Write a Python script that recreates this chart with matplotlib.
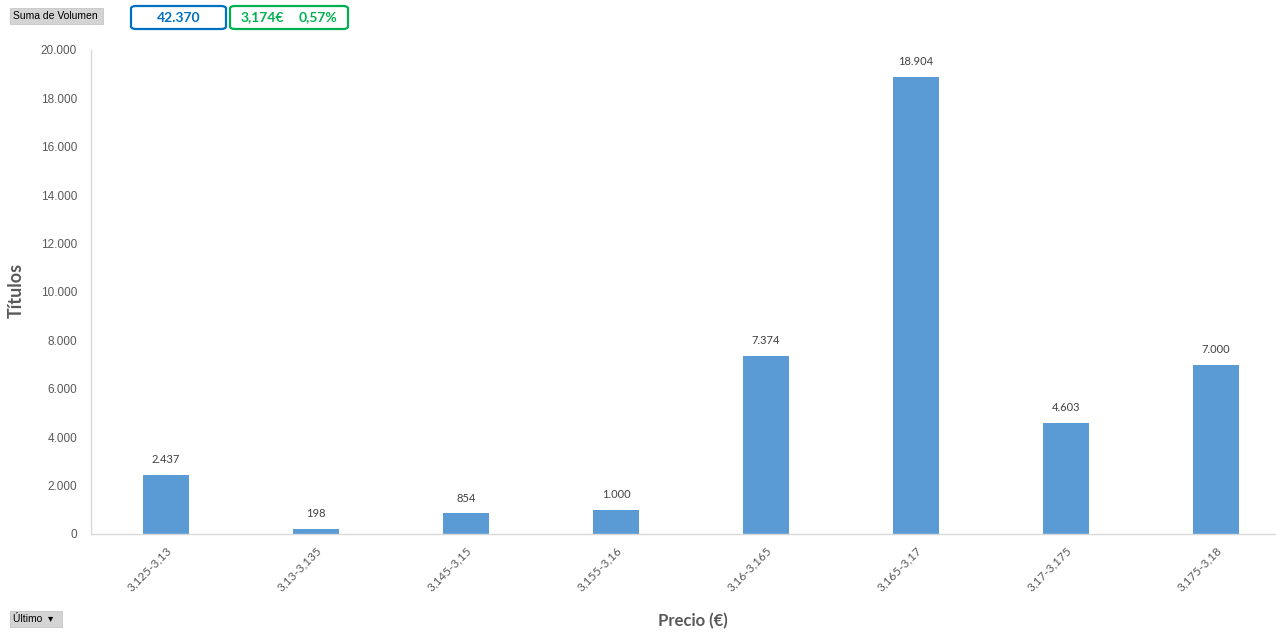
import matplotlib.pyplot as plt
from matplotlib.patches import FancyBboxPatch, Rectangle
from matplotlib.ticker import FuncFormatter

categorias = ["3,125-3,13", "3,13-3,135", "3,145-3,15", "3,155-3,16",
              "3,16-3,165", "3,165-3,17", "3,17-3,175", "3,175-3,18"]
volumen = [2437, 198, 854, 1000, 7374, 18904, 4603, 7000]
total_volumen = "42.370"
ultimo_precio = "3,174€"
variacion = "0,57%"

W, H = 1276, 637
fig = plt.figure(figsize=(W / 100, H / 100), dpi=100)
plt.rcParams['font.family'] = ['Liberation Sans', 'DejaVu Sans']
calibri = ['Lato', 'DejaVu Sans']

# el área de trazado sobresale por la derecha, como en el original
ax = fig.add_axes([91 / W, 1 - 534 / H, 1200 / W, (534 - 50) / H])
x = range(len(categorias))
bars = ax.bar(x, volumen, width=0.313, color="#5B9BD5", zorder=2)

def miles(v, pos=None):
    return f"{int(round(v)):,}".replace(",", ".")

for b, v in zip(bars, volumen):
    ax.annotate(miles(v), (b.get_x() + b.get_width() / 2, v), xytext=(0, 7),
                textcoords="offset points", ha="center", va="bottom",
                fontsize=8, color="#404040", family=calibri)

ax.set_xlim(-0.5, len(categorias) - 0.5)
ax.set_ylim(0, 20000)
ax.set_yticks(range(0, 20001, 2000))
ax.yaxis.set_major_formatter(FuncFormatter(miles))
ax.set_xticks(list(x))
ax.set_xticklabels(categorias, rotation=45, ha="right", rotation_mode="anchor",
                   family=calibri, fontsize=8.5)
ax.tick_params(axis="both", length=0, colors="#595959")
ax.tick_params(axis="y", pad=10, labelsize=8.5)
ax.tick_params(axis="x", pad=8)
for s in ["top", "right"]:
    ax.spines[s].set_visible(False)
for s in ["left", "bottom"]:
    ax.spines[s].set_color("#D9D9D9")
    ax.spines[s].set_linewidth(1)

fig.text(16 / W, 1 - 290 / H, "Títulos", rotation=90, ha="center", va="center",
         fontsize=13, fontweight="bold", color="#595959", family=calibri)
fig.text(693 / W, 1 - 621 / H, "Precio (€)", ha="center", va="center",
         fontsize=12, fontweight="bold", color="#595959", family=calibri)

# botones de la tabla dinámica
fig.patches.append(Rectangle((10 / W, 1 - 24 / H), 93 / W, 16 / H,
                             transform=fig.transFigure, facecolor="#D4D4D4",
                             edgecolor="#BFBFBF", linewidth=0.5))
fig.text(13 / W, 1 - 16 / H, "Suma de Volumen", ha="left", va="center",
         fontsize=7.5, color="#000000")
fig.patches.append(Rectangle((10 / W, 1 - 627 / H), 52 / W, 16 / H,
                             transform=fig.transFigure, facecolor="#D4D4D4",
                             edgecolor="#BFBFBF", linewidth=0.5))
fig.text(13 / W, 1 - 619 / H, "Último  ▾", ha="left", va="center",
         fontsize=7.5, color="#000000")

fig.patches.append(FancyBboxPatch((131 / W, 1 - 29 / H), 95 / W, 23 / H,
                                  boxstyle="round,pad=0,rounding_size=0.004",
                                  transform=fig.transFigure, facecolor="white",
                                  edgecolor="#0070C0", linewidth=1.6))
fig.text(178.5 / W, 1 - 17.5 / H, total_volumen, ha="center", va="center",
         fontsize=10, fontweight="bold", color="#0070C0", family=calibri)
fig.patches.append(FancyBboxPatch((230 / W, 1 - 29 / H), 118 / W, 23 / H,
                                  boxstyle="round,pad=0,rounding_size=0.004",
                                  transform=fig.transFigure, facecolor="white",
                                  edgecolor="#00B050", linewidth=1.6))
fig.text(262 / W, 1 - 17.5 / H, ultimo_precio, ha="center", va="center",
         fontsize=10, fontweight="bold", color="#00B050", family=calibri)
fig.text(318 / W, 1 - 17.5 / H, variacion, ha="center", va="center",
         fontsize=10, fontweight="bold", color="#00B050", family=calibri)

fig.savefig("out.png", dpi=100)
